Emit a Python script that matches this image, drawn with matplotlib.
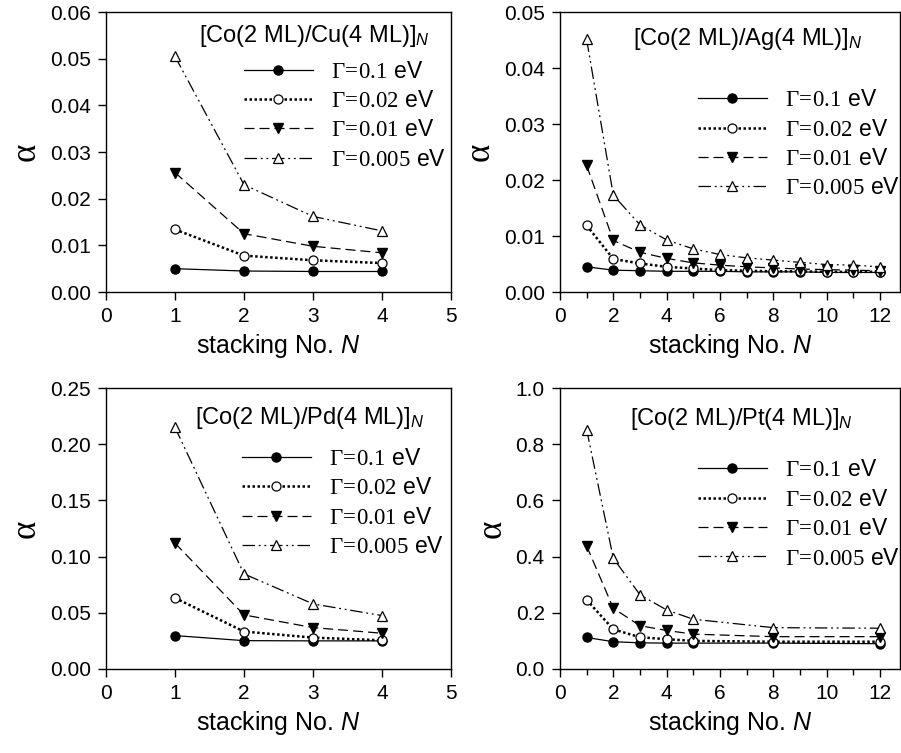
import matplotlib
matplotlib.use("Agg")
import matplotlib.pyplot as plt
from matplotlib.ticker import FormatStrFormatter, MultipleLocator

plt.rcParams['font.family'] = ['Liberation Sans', 'DejaVu Sans']
plt.rcParams['mathtext.fontset'] = 'custom'
plt.rcParams['mathtext.rm'] = 'Liberation Serif'
plt.rcParams['mathtext.it'] = 'Liberation Sans:italic'

gammas = ["0.1", "0.02", "0.01", "0.005"]

# Co/Cu
n_cu = [1, 2, 3, 4]
cu = [
    [0.0050, 0.0045, 0.0044, 0.0044],
    [0.0134, 0.0078, 0.0068, 0.0062],
    [0.0256, 0.0125, 0.0098, 0.0084],
    [0.0505, 0.0230, 0.0162, 0.0131],
]

# Co/Ag
n_ag = [1, 2, 3, 4, 5, 6, 7, 8, 9, 10, 11, 12]
ag = [
    [0.0045, 0.0039, 0.0038, 0.0037, 0.0037, 0.0037, 0.0036, 0.0036, 0.0036, 0.0035, 0.0035, 0.0035],
    [0.0119, 0.0059, 0.0051, 0.0045, 0.0042, 0.0039, 0.0038, 0.0037, 0.0037, 0.0036, 0.0036, 0.0036],
    [0.0226, 0.0092, 0.0071, 0.0060, 0.0052, 0.0048, 0.0045, 0.0043, 0.0041, 0.0040, 0.0039, 0.0038],
    [0.0451, 0.0173, 0.0120, 0.0093, 0.0077, 0.0067, 0.0061, 0.0057, 0.0053, 0.0049, 0.0048, 0.0045],
]

# Co/Pd
n_pd = [1, 2, 3, 4]
pd_ = [
    [0.0297, 0.0252, 0.0250, 0.0250],
    [0.0632, 0.0333, 0.0279, 0.0255],
    [0.112, 0.0481, 0.0368, 0.0318],
    [0.215, 0.0846, 0.0579, 0.0475],
]

# Co/Pt
n_pt = [1, 2, 3, 4, 5, 8, 12]
pt = [
    [0.112, 0.097, 0.093, 0.092, 0.092, 0.092, 0.090],
    [0.246, 0.141, 0.113, 0.106, 0.100, 0.097, 0.097],
    [0.438, 0.216, 0.154, 0.137, 0.124, 0.115, 0.115],
    [0.852, 0.394, 0.264, 0.210, 0.177, 0.147, 0.145],
]

styles = [
    dict(ls='-', lw=0.9, marker='o', mfc='black', ms=6.5),
    dict(ls=(0, (1, 1)), lw=1.8, marker='o', mfc='white', ms=6.5, mew=0.9),
    dict(ls=(0, (8, 4)), lw=0.9, marker='v', mfc='black', ms=6.5),
    dict(ls=(0, (10, 3, 1.5, 3, 1.5, 3)), lw=0.9, marker='^', mfc='white', ms=6.5, mew=0.9),
]


def plot_panel(ax, n, data, title, ylim, ystep, yfmt, xlim, xmajor, xminor,
               title_pos, leg_pos):
    for vals, g, st in zip(data, gammas, styles):
        ax.plot(n, vals, color='black', mec='black',
                label=r'$\mathrm{\Gamma\!=\!%s}$ eV' % g, **st)
    ax.set_xlim(*xlim)
    ax.set_ylim(*ylim)
    ax.xaxis.set_major_locator(MultipleLocator(xmajor))
    if xminor:
        ax.xaxis.set_minor_locator(MultipleLocator(xminor))
    ax.yaxis.set_major_locator(MultipleLocator(ystep))
    ax.yaxis.set_major_formatter(FormatStrFormatter(yfmt))
    ax.tick_params(direction='out', length=6, width=1, labelsize=15, pad=5,
                   top=False, right=False)
    ax.tick_params(which='minor', direction='out', length=4, width=1)
    for s in ax.spines.values():
        s.set_linewidth(1)
    ax.set_xlabel(r'stacking No. $\mathit{N}$', fontsize=18, labelpad=4)
    ax.set_ylabel('α', fontsize=25, family='Liberation Serif', labelpad=5)
    ax.text(title_pos[0], title_pos[1], title + r'$_\mathit{N}$',
            transform=ax.transAxes, fontsize=17, ha='left', va='center')
    ax.legend(loc='upper left', bbox_to_anchor=leg_pos, frameon=False,
              fontsize=16.5, handlelength=3.0, handletextpad=0.8,
              labelspacing=0.28, borderpad=0, borderaxespad=0)


fig = plt.figure(figsize=(9.01, 7.53), dpi=100)
ax1 = fig.add_axes([0.1176, 0.6122, 0.383, 0.3718])
ax2 = fig.add_axes([0.6215, 0.6122, 0.3774, 0.3718])
ax3 = fig.add_axes([0.1176, 0.1116, 0.383, 0.3731])
ax4 = fig.add_axes([0.6215, 0.1116, 0.3774, 0.3731])

plot_panel(ax1, n_cu, cu, '[Co(2 ML)/Cu(4 ML)]', (0, 0.06), 0.01, '%.2f',
           (0, 5), 1, None, (0.27, 0.915), (0.4, 0.83))
plot_panel(ax2, n_ag, ag, '[Co(2 ML)/Ag(4 ML)]', (0, 0.05), 0.01, '%.2f',
           (0, 12.75), 2, 1, (0.215, 0.903), (0.406, 0.728))
plot_panel(ax3, n_pd, pd_, '[Co(2 ML)/Pd(4 ML)]', (0, 0.25), 0.05, '%.2f',
           (0, 5), 1, None, (0.258, 0.894), (0.394, 0.79))
plot_panel(ax4, n_pt, pt, '[Co(2 ML)/Pt(4 ML)]', (0, 1.0), 0.2, '%.1f',
           (0, 12.75), 2, 1, (0.206, 0.89), (0.406, 0.75))

fig.savefig('out.png', dpi=100)
